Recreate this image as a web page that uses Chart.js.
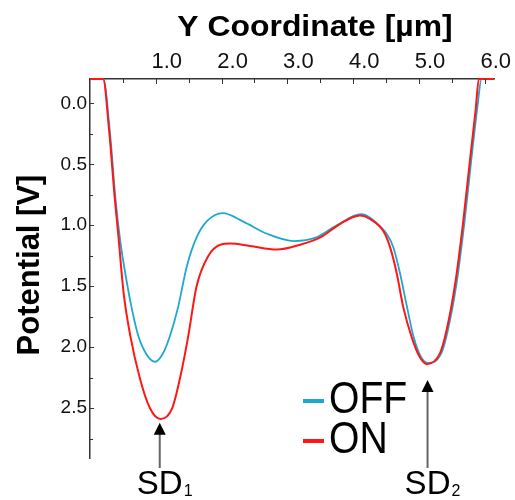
<!DOCTYPE html>
<html>
<head>
<meta charset="utf-8">
<script src="https://cdn.jsdelivr.net/npm/chart.js@4.4.1/dist/chart.umd.min.js"></script>
<style>
  html, body { margin: 0; padding: 0; background: #fff; }
  #wrap { width: 515px; height: 500px; }
</style>
</head>
<body>
<div id="wrap"><canvas id="chart" width="515" height="500"></canvas></div>
<script>
// values (x in um, potential in V)
const offX = [0, 0.2, 0.30, 0.39, 0.46, 0.56, 0.63, 0.73, 0.86, 0.99, 1.11, 1.22, 1.34, 1.47, 1.62, 1.77, 2.02, 2.33, 2.69, 3.10, 3.44, 3.75, 4.12, 4.41, 4.52, 4.61, 4.71, 4.81, 4.92, 5.03, 5.14, 5.34, 5.44, 5.57, 5.69, 5.80, 5.89, 5.95, 6.14];
const offV = [-0.2, -0.2, 0.22, 0.80, 1.13, 1.47, 1.67, 1.90, 2.06, 2.12, 2.05, 1.90, 1.67, 1.34, 1.10, 0.97, 0.90, 0.97, 1.07, 1.13, 1.10, 1.0, 0.91, 1.01, 1.08, 1.18, 1.39, 1.65, 1.92, 2.08, 2.13, 2.05, 1.86, 1.48, 0.98, 0.44, 0.02, -0.2, -0.2];
const onX = [0, 0.2, 0.29, 0.38, 0.43, 0.51, 0.61, 0.76, 0.91, 1.07, 1.25, 1.37, 1.49, 1.62, 1.80, 1.98, 2.13, 2.43, 2.84, 3.19, 3.50, 3.80, 4.10, 4.26, 4.46, 4.56, 4.66, 4.76, 4.89, 5.01, 5.12, 5.32, 5.42, 5.55, 5.67, 5.78, 5.86, 5.91, 6.14];
const onV = [-0.2, -0.2, 0.22, 0.80, 1.08, 1.55, 1.90, 2.26, 2.50, 2.59, 2.50, 2.25, 1.92, 1.50, 1.25, 1.16, 1.15, 1.17, 1.20, 1.16, 1.10, 0.99, 0.92, 0.95, 1.05, 1.18, 1.39, 1.67, 1.92, 2.08, 2.14, 2.05, 1.86, 1.48, 0.98, 0.44, 0.06, -0.2, -0.2];

const seriesNames = ['OFF', 'ON'];
const seriesColors = ['#1ea8d0', '#ff1616'];

const xTicks = [1, 2, 3, 4, 5, 6];
const yTicks = [0, 0.5, 1, 1.5, 2, 2.5];

const sdX = [1.06, 5.13];
const sdTipV = [2.62, 2.27];
const sdSub = ['1', '2'];

const FONT = '"Liberation Sans", Arial, sans-serif';

function toPoints(xs, vs) {
    return xs.map((x, i) => ({ x: x, y: vs[i] }));
}

function near(list, v) {
    return list.some(t => Math.abs(t - v) < 1e-6);
}

function text(ctx, str, x, y, font, align, sx) {
    ctx.save();
    ctx.font = font;
    ctx.textAlign = align || 'left';
    ctx.textBaseline = 'middle';
    ctx.translate(x, y);
    ctx.scale(sx || 1, 1);
    ctx.fillText(str, 0, 0);
    ctx.restore();
}

const overlay = {
    id: 'overlay',
    afterDraw(chart) {
        const { ctx, chartArea } = chart;
        const xs = chart.scales.x, ys = chart.scales.y;
        ctx.save();

        // inward tick marks
        ctx.strokeStyle = '#333';
        ctx.lineWidth = 1;
        ctx.beginPath();
        for (let v = 0.5; v <= 6.001; v += 0.5) {
            const px = Math.round(xs.getPixelForValue(v)) + 0.5;
            const len = near(xTicks, v) ? 5 : 4;
            ctx.moveTo(px, chartArea.top);
            ctx.lineTo(px, chartArea.top + len);
        }
        for (let v = 0; v <= 2.751; v += 0.25) {
            const py = Math.round(ys.getPixelForValue(v)) + 0.5;
            const len = near(yTicks, v) ? 4 : 3;
            ctx.moveTo(chartArea.left, py);
            ctx.lineTo(chartArea.left + len, py);
        }
        ctx.stroke();

        // axis titles
        ctx.fillStyle = '#000';
        text(ctx, 'Y Coordinate [µm]', 315, 28, 'bold 29px ' + FONT, 'center', 1.1);
        ctx.save();
        ctx.translate(30, 265);
        ctx.rotate(-Math.PI / 2);
        text(ctx, 'Potential [V]', 0, 0, 'bold 31px ' + FONT, 'center', 1);
        ctx.restore();

        // legend
        chart.data.datasets.forEach((ds, i) => {
            const ly = 401 + i * 40;
            ctx.fillStyle = ds.borderColor;
            ctx.fillRect(303, ly - 2, 21, 4);
            ctx.fillStyle = '#000';
            text(ctx, ds.label, 329, ly, '45px ' + FONT, 'left', 0.87);
        });

        // SD arrows
        sdX.forEach((v, i) => {
            const px = xs.getPixelForValue(v);
            const tip = ys.getPixelForValue(sdTipV[i]);
            ctx.strokeStyle = '#666';
            ctx.lineWidth = 2;
            ctx.beginPath();
            ctx.moveTo(px, tip + 10);
            ctx.lineTo(px, chartArea.bottom + 10);
            ctx.stroke();
            ctx.fillStyle = '#000';
            ctx.beginPath();
            ctx.moveTo(px, tip);
            ctx.lineTo(px - 6, tip + 12);
            ctx.lineTo(px + 6, tip + 12);
            ctx.closePath();
            ctx.fill();
            ctx.font = '33px ' + FONT;
            const w = ctx.measureText('SD').width;
            text(ctx, 'SD', px, 485, '33px ' + FONT, 'center', 1);
            text(ctx, sdSub[i], px + w / 2 + 1, 492, '16px ' + FONT, 'left', 1);
        });
        ctx.restore();
    }
};

new Chart(document.getElementById('chart'), {
    type: 'line',
    data: {
        datasets: [
            {
                label: seriesNames[0],
                data: toPoints(offX, offV),
                borderColor: seriesColors[0],
                borderWidth: 1.8,
                pointRadius: 0,
                cubicInterpolationMode: 'monotone',
                clip: false,
                order: 1
            },
            {
                label: seriesNames[1],
                data: toPoints(onX, onV),
                borderColor: seriesColors[1],
                borderWidth: 2,
                pointRadius: 0,
                cubicInterpolationMode: 'monotone',
                clip: false,
                order: 0
            }
        ]
    },
    options: {
        responsive: false,
        animation: false,
        devicePixelRatio: 1,
        layout: { padding: { left: 0, top: 0, right: 21, bottom: 42 } },
        plugins: { legend: { display: false }, tooltip: { enabled: false } },
        scales: {
            x: {
                type: 'linear',
                position: 'top',
                min: 0,
                max: 6.14,
                grid: { display: false, drawTicks: false },
                border: { display: true, color: '#333', width: 1.5 },
                ticks: {
                    stepSize: 0.5,
                    includeBounds: false,
                    autoSkip: false,
                    maxRotation: 0,
                    labelOffset: 11,
                    padding: 4,
                    color: '#111',
                    font: { family: FONT, size: 22 },
                    callback: v => near(xTicks, v) ? v.toFixed(1) : ''
                },
                afterFit(s) { s.height = 79; }
            },
            y: {
                type: 'linear',
                reverse: true,
                min: -0.2,
                max: 2.91,
                grid: { display: false, drawTicks: false },
                border: { display: true, color: '#333', width: 1.5 },
                ticks: {
                    stepSize: 0.25,
                    includeBounds: false,
                    autoSkip: false,
                    padding: 3,
                    color: '#111',
                    font: { family: FONT, size: 19 },
                    callback: v => near(yTicks, v) ? v.toFixed(1) : ''
                },
                afterFit(s) { s.width = 90; }
            }
        }
    },
    plugins: [overlay]
});
</script>
</body>
</html>
